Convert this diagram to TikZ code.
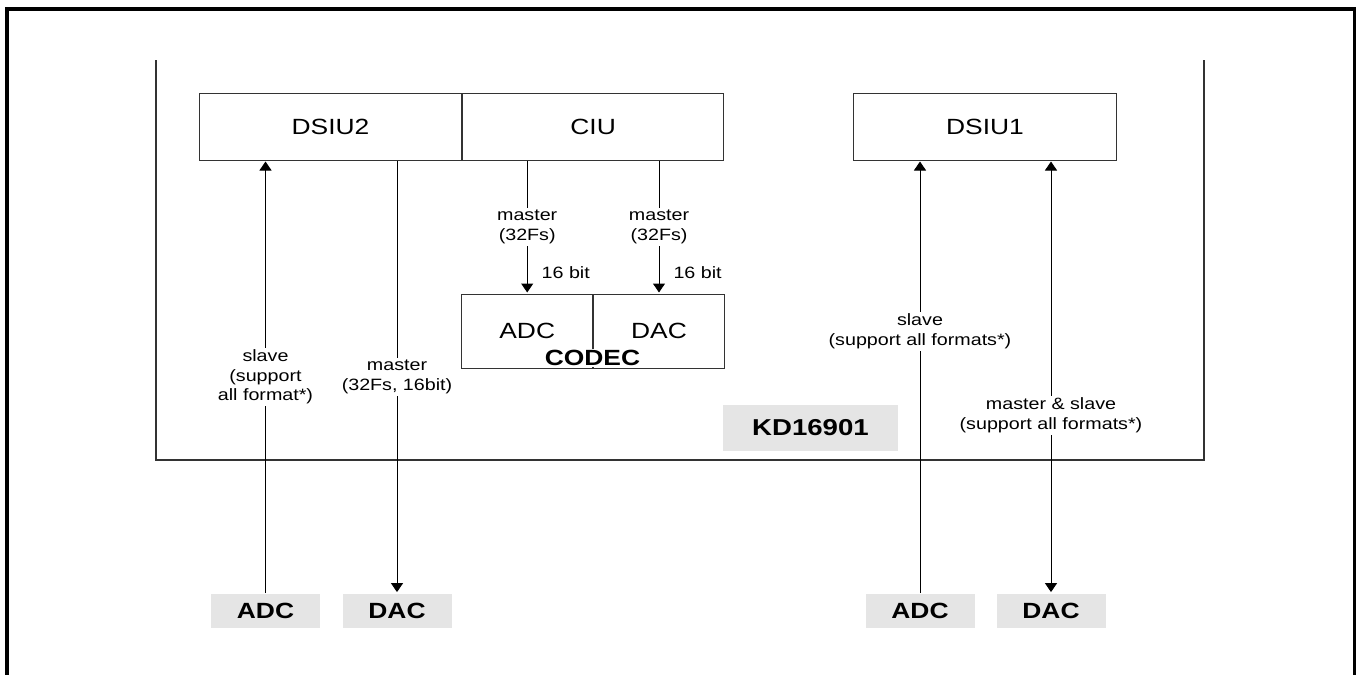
\documentclass[tikz,border=0pt]{standalone}
\usepackage{fontspec}
\setmainfont{Liberation Sans}[FakeStretch=1.2]
\usepackage{xcolor}
\usetikzlibrary{arrows.meta, positioning}

\begin{document}
\begin{tikzpicture}[
      x=0.5pt, y=-0.5pt,
      blk/.style={rectangle, draw=black!80, line width=0.5pt, minimum height=33.5pt, inner sep=0pt, font=\fontsize{11}{13}\selectfont},
      half/.style={blk, minimum width=65.4pt, minimum height=37pt},
      pin/.style={rectangle, fill=black!10, minimum width=54.5pt, minimum height=17pt, inner sep=0pt, font=\bfseries\fontsize{11}{13}\selectfont},
      lbl/.style={fill=white, inner sep=1pt, align=center, font=\fontsize{8.2}{9.8}\selectfont},
      tag/.style={inner sep=0pt, font=\fontsize{8.2}{9.8}\selectfont},
      arrow/.style={-{Triangle[length=4.5pt, width=6pt]}, line width=0.5pt, shorten >=0.5pt},
      dblarrow/.style={{Triangle[length=4.5pt, width=6pt]}-{Triangle[length=4.5pt, width=6pt]}, line width=0.5pt, shorten >=0.5pt, shorten <=0.5pt},
    ]
    \useasboundingbox (0,0) rectangle (1357,675);
    \draw[line width=1.75pt] (7,677) -- (7,9) -- (1354.5,9) -- (1354.5,677);
    \draw[draw=black!80, line width=0.6pt] (156,60) -- (156,460) -- (1204,460) -- (1204,60);

    \node[blk, minimum width=130.8pt] (dsiu2) at (330.5,126.5) {DSIU2};
    \node[blk, minimum width=130.8pt, right=0pt of dsiu2] (ciu) {CIU};
    \node[blk, minimum width=131.4pt] (dsiu1) at (985,126.5) {DSIU1};
    \node[half] (cadc) at (527.2,331) {ADC};
    \node[half, right=0pt of cadc] (cdac) {DAC};
    \node[font=\bfseries\fontsize{11}{13}\selectfont, fill=white, inner sep=0.5pt] (codec) at (592.5,358) {CODEC};
    \node[pin, minimum width=87.5pt, minimum height=23pt, font=\bfseries\fontsize{11.5}{13}\selectfont] (chip) at (810.5,428) {KD16901};

    \node[pin] (adc2) at (265.5,610.5) {ADC};
    \node[pin] (dac2) at (397,610.5) {DAC};
    \node[pin] (adc1) at (920,610.5) {ADC};
    \node[pin] (dac1) at (1051,610.5) {DAC};

    \draw[arrow] (adc2.north) -- node[lbl] {slave\\(support\\all format*)} (adc2.north |- dsiu2.south);
    \draw[arrow] (dac2.north |- dsiu2.south) -- node[lbl] {master\\(32Fs, 16bit)} (dac2.north);
    \draw[arrow] (cadc.north |- ciu.south) -- node[lbl] {master\\(32Fs)} node[tag, pos=0.84, right=7pt] {16 bit} (cadc.north);
    \draw[arrow] (cdac.north |- ciu.south) -- node[lbl] {master\\(32Fs)} node[tag, pos=0.84, right=7pt] {16 bit} (cdac.north);
    \draw[arrow] (adc1.north) -- node[lbl, pos=0.605] {slave\\(support all formats*)} (adc1.north |- dsiu1.south);
    \draw[dblarrow] (dac1.north |- dsiu1.south) -- node[lbl, pos=0.589] {master \& slave\\(support all formats*)} (dac1.north);
  \end{tikzpicture}
\end{document}
